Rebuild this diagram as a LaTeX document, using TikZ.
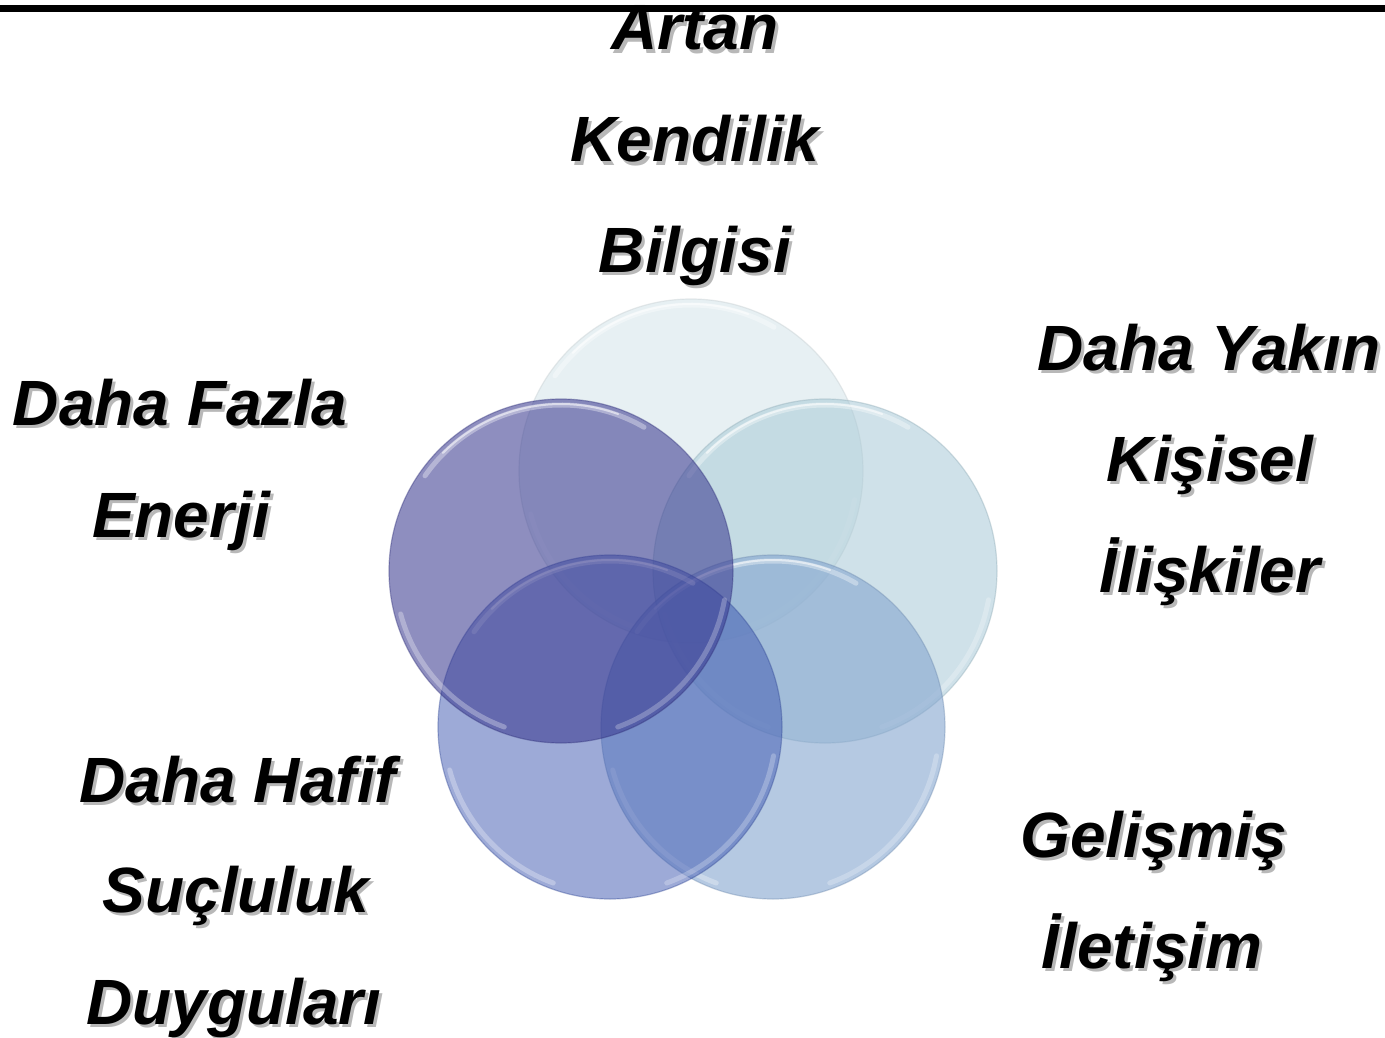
\documentclass[tikz,border=0pt]{standalone}
\usepackage{fontspec}
\setmainfont{Liberation Sans}
\definecolor{cTop}{HTML}{E7F0F3}
\definecolor{cRight}{HTML}{A9CAD7}
\definecolor{cBR}{HTML}{84A5CF}
\definecolor{cBL}{HTML}{3D57B1}
\definecolor{cLeft}{HTML}{393990}
\newcommand\glassdisc[5]{% name, x, y, colour, opacity
  \node[disc, fill=#4, fill opacity=#5, draw=#4!85!black, draw opacity=0.4] (#1) at (#2,#3) {};
  \draw[hilite] ([shift={(#1.center)}]-60:166) arc[start angle=-60, end angle=-145, radius=166];
  \draw[hilite, line width=2pt, opacity=0.55] ([shift={(#1.center)}]-70:167) arc[start angle=-70, end angle=-135, radius=167];
  \draw[hilite, opacity=0.3] ([shift={(#1.center)}]-195:166) arc[start angle=-195, end angle=-250, radius=166];
  \draw[hilite, opacity=0.25] ([shift={(#1.center)}]-290:166) arc[start angle=-290, end angle=-350, radius=166];
}
\newcommand\lblline[4]{% name, x, y, text
  \node[lbl, text=black, opacity=0.28] (#1s) at (#2+3,#3+3.5) {#4};
  \node[lbl] (#1) at (#2,#3) {#4};
}
\begin{document}
\begin{tikzpicture}[x=1pt,y=-1pt,
  disc/.style={circle, minimum size=344pt, inner sep=0pt, line width=1.2pt},
  hilite/.style={white, opacity=0.35, line width=5pt, line cap=round},
  lbl/.style={font=\fontsize{64}{64}\selectfont\bfseries\itshape, inner sep=0pt, anchor=base}]
\useasboundingbox (0,0) rectangle (1385,1038);
\fill[white] (0,0) rectangle (1385,1038);
\fill[black] (0,5) rectangle (1385,12);
% circles
\glassdisc{cT}{691}{471}{cTop}{1}
\glassdisc{cR}{825}{571}{cRight}{0.55}
\glassdisc{cBRc}{773}{727}{cBR}{0.6}
\glassdisc{cBLc}{610}{727}{cBL}{0.5}
\glassdisc{cL}{561}{571}{cLeft}{0.57}
% labels
\lblline{a1}{695}{50}{Artan}
\lblline{a2}{695}{162}{Kendilik}
\lblline{a3}{695}{272}{Bilgisi}
\lblline{b1}{1209}{370}{Daha Yakın}
\lblline{b2}{1210}{481}{Kişisel}
\lblline{b3}{1210}{592}{İlişkiler}
\lblline{c1}{1154}{857}{Gelişmiş}
\lblline{c2}{1152}{968}{İletişim}
\lblline{d1}{238}{802}{Daha Hafif}
\lblline{d2}{236}{912}{Suçluluk}
\lblline{d3}{234}{1024}{Duyguları}
\lblline{e1}{180}{425}{Daha Fazla}
\lblline{e2}{181}{537}{Enerji}
\end{tikzpicture}
\end{document}
